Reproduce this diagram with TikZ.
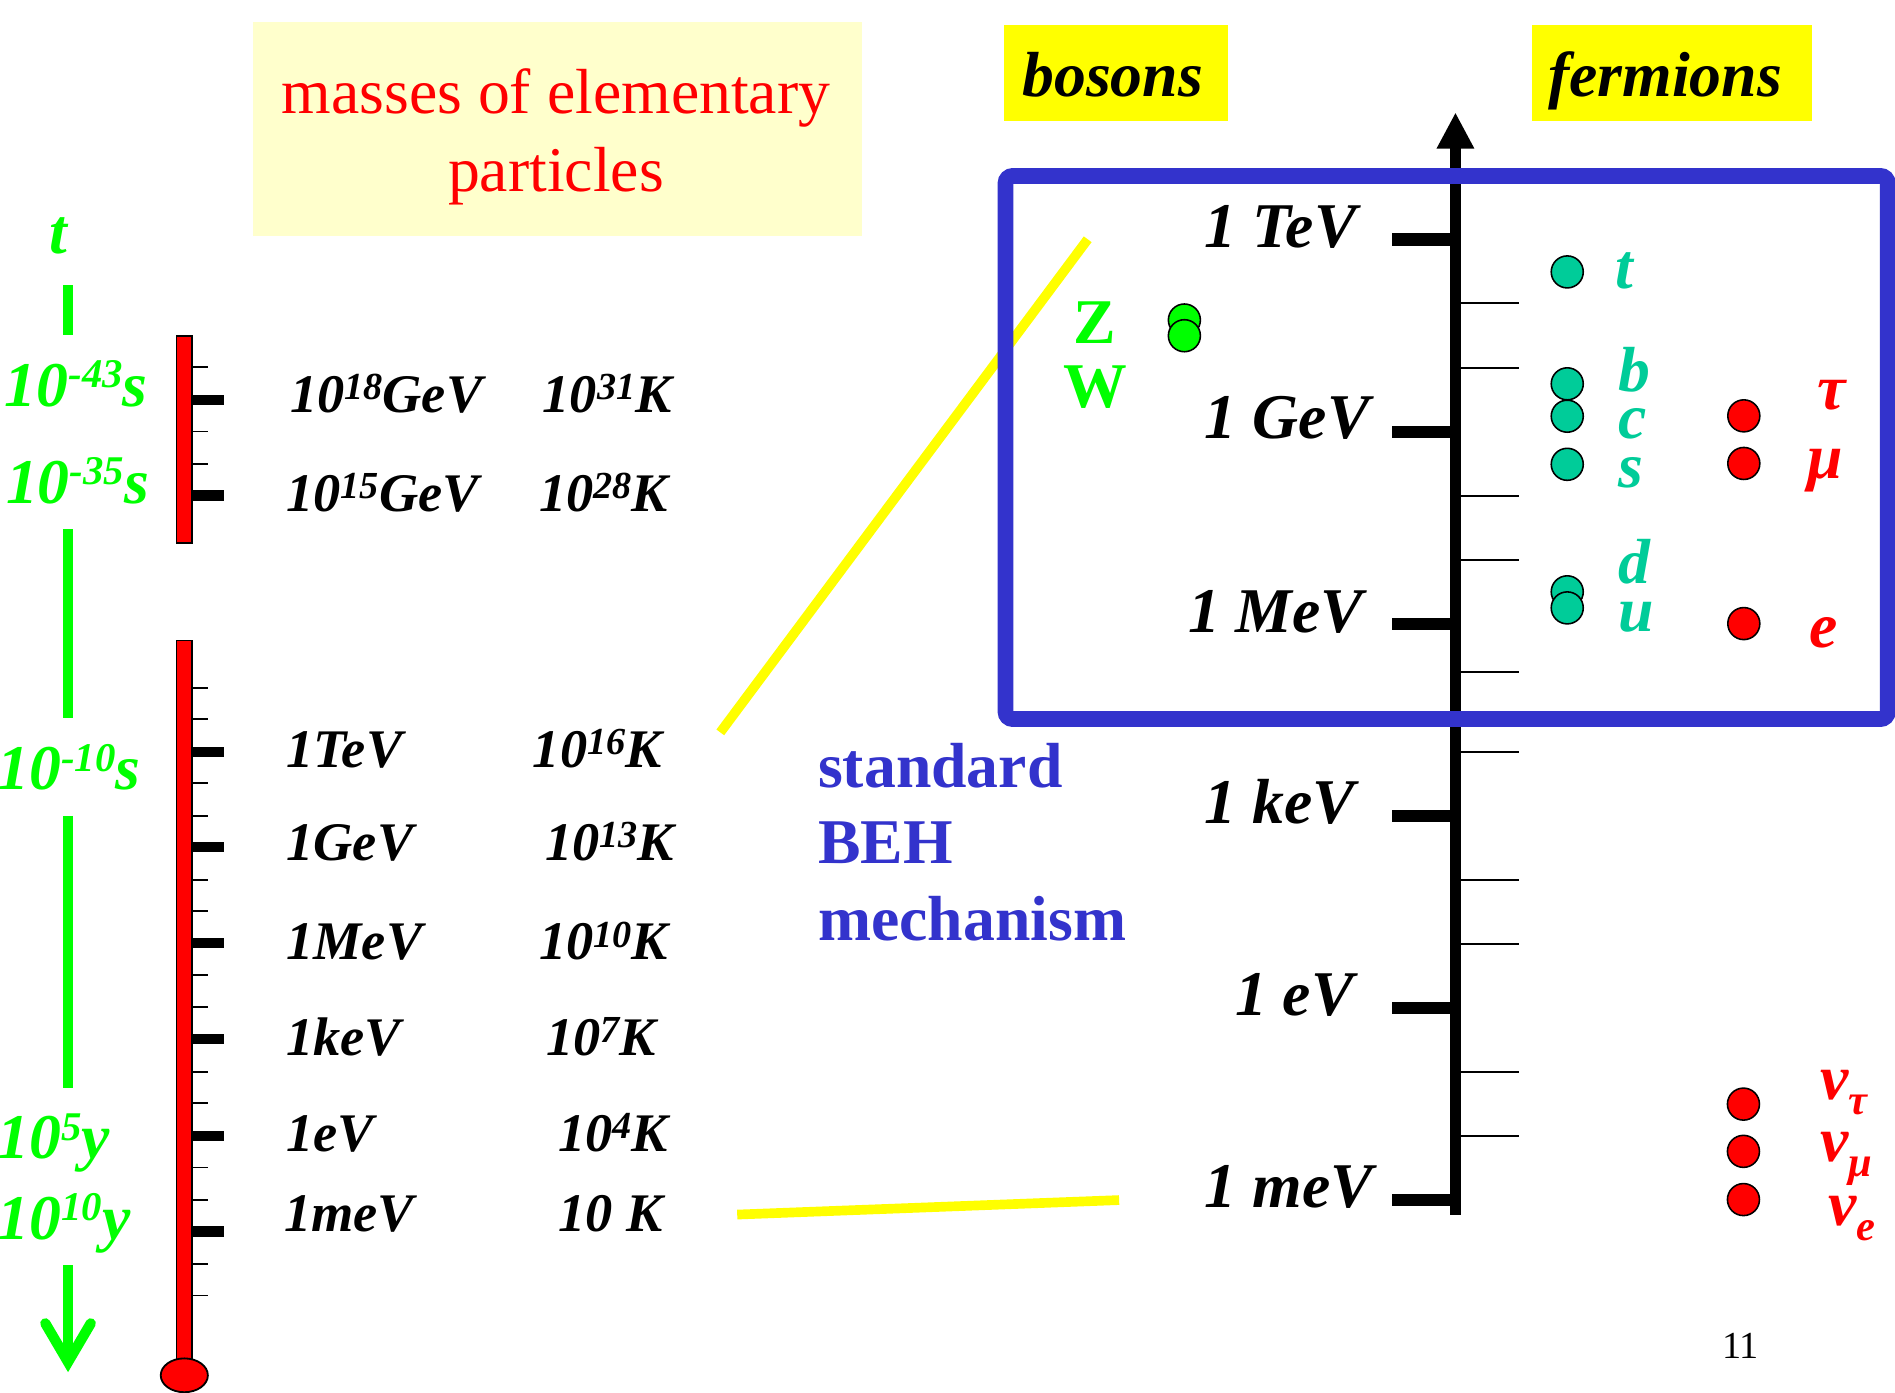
\documentclass[tikz,border=0pt]{standalone}
\usepackage{fontspec}
\setmainfont{Liberation Serif}
\usetikzlibrary{arrows.meta}
\definecolor{grn}{RGB}{0,255,0}
\definecolor{tealc}{RGB}{0,204,153}
\definecolor{bluc}{RGB}{51,51,204}
\definecolor{ltyel}{RGB}{255,255,204}
\definecolor{yelc}{RGB}{255,255,0}
\newcommand{\fsz}[1]{\fontsize{#1}{#1}\selectfont}
\newcommand{\gsup}[1]{\raisebox{4.4pt}{\fsz{9.6}#1}}
\newcommand{\ksup}[1]{\raisebox{3pt}{\fsz{9}#1}}
\newcommand{\nsub}[1]{\raisebox{-3.5pt}{\fsz{10}#1}}
\begin{document}
\begin{tikzpicture}[x=0.1mm,y=-0.1mm,
  txt/.style={inner sep=0pt,outer sep=0pt,anchor=base west},
  bisz/.style={font=\bfseries\itshape\fsz{#1}},
  bsz/.style={font=\bfseries\fsz{#1}},
  therm/.style={fill=red,draw=black,line width=0.15mm},
  tbig/.style={line width=0.85mm},
  tsm/.style={line width=0.15mm},
  gline/.style={draw=grn,line width=0.85mm},
  yline/.style={draw=yelc,line width=0.8mm},
  pdot/.style={circle,draw=black,line width=0.13mm,minimum size=2.65mm,inner sep=0pt,fill=#1},
  axlab/.style={txt,bisz=15},
  elab/.style={txt,bisz=12.8},
  glab/.style={txt,bisz=15,text=grn},
  qlab/.style={txt,bisz=15,text=tealc},
  rlab/.style={txt,bisz=15,text=red},
]
\fill[white] (0,0) rectangle (1568,1152);
\useasboundingbox (0,0) rectangle (1568,1152);

% title
\fill[ltyel] (209,18) rectangle (713,195);
\node[inner sep=0pt,anchor=base,text=red,font=\fsz{15}] (title1) at (460,93.8) {masses of elementary};
\node[inner sep=0pt,anchor=base,text=red,font=\fsz{15}] (title2) at (460,158.6) {particles};

% bosons / fermions
\fill[yelc] (831,20.7) rectangle (1016,99.9);
\fill[yelc] (1267.6,20.7) rectangle (1499,99.9);
\node[axlab] (bos) at (846,80) {bosons};
\node[axlab] (fer) at (1281,80) {fermions};

% green time axis
\node[glab] (tlab) at (41,210) {t};
\draw[gline] (56.3,236) -- (56.3,277);
\draw[gline] (56.3,438) -- (56.3,594);
\draw[gline] (56.3,675) -- (56.3,900);
\draw[gline] (56.3,1047) -- (56.3,1125);
\draw[gline,line join=miter,line cap=round] (37.5,1095) -- (56.3,1127) -- (75.1,1095);
\node[glab] (g43) at (4,336.5) {10\gsup{-43}s};
\node[glab] (g35) at (5,416.3) {10\gsup{-35}s};
\node[glab] (g10) at (-2,653.6) {10\gsup{-10}s};
\node[glab] (g5y) at (-2,959) {10\gsup{5}y};
\node[glab] (g10y) at (-2,1025.4) {10\gsup{10}y};

% thermometer top
\draw[therm] (146,278) rectangle (159,449);
\foreach \yy in {331,410} \draw[tbig] (159,\yy) -- (185.5,\yy);
\foreach \yy in {304,357,384} \draw[tsm] (159,\yy) -- (172,\yy);
% thermometer bottom
\draw[therm] (146,530) rectangle (159,1132);
\draw[therm] (152.5,1138) ellipse [x radius=19.5, y radius=14];
\foreach \yy in {622,701,780,860,940,1019} \draw[tbig] (159,\yy) -- (185.5,\yy);
\foreach \yy in {569,595,648,675,728,754,807,833,887,913,966,993,1046,1072} \draw[tsm] (159,\yy) -- (172,\yy);

% energy / temperature labels
\node[elab] (e18) at (240,341.4) {10\ksup{18}GeV};
\node[elab] (k31) at (449,341.4) {10\ksup{31}K};
\node[elab] (e15) at (237,423.3) {10\ksup{15}GeV};
\node[elab] (k28) at (446,423.3) {10\ksup{28}K};
\node[elab] (eT) at (237,635) {1TeV};
\node[elab] (k16) at (441,635) {10\ksup{16}K};
\node[elab] (eG) at (237,712) {1GeV};
\node[elab] (k13) at (451,712) {10\ksup{13}K};
\node[elab] (eM) at (237,794.3) {1MeV};
\node[elab] (k10) at (446,794.3) {10\ksup{10}K};
\node[elab] (ek) at (237,873) {1keV};
\node[elab] (k7) at (452,873) {10\ksup{7}K};
\node[elab] (ee) at (237,953) {1eV};
\node[elab] (k4) at (462,953) {10\ksup{4}K};
\node[elab] (em) at (235,1019) {1meV};
\node[elab] (k1) at (462,1019) {10 K};

% yellow connectors
\coordinate (ya1) at (596,606);
\coordinate (yb1) at (900,198);
\coordinate (ya2) at (610,1005);
\coordinate (yb2) at (926,993);
\draw[yline] (ya1) -- (yb1);
\draw[yline] (ya2) -- (yb2);

% BEH text
\node[txt,bsz=15,text=bluc] (beh1) at (677,651.4) {standard};
\node[txt,bsz=15,text=bluc] (beh2) at (677,714.3) {BEH};
\node[txt,bsz=15,text=bluc] (beh3) at (677,778.3) {mechanism};

% energy axis
\coordinate (axb) at (1204.3,1005);
\coordinate (axt) at (1204.3,93);
\draw[line width=0.95mm,-{Triangle[length=3mm,width=2.9mm]}] (axb) -- (axt);
\foreach \yy in {198.2,357.3,516.5,675.2,834,993} \draw[line width=1mm] (1151.8,\yy) -- (1204.3,\yy);
\foreach \yy in {251,304.4,410.3,463.2,556,622,728,780.8,886.9,939.7} \draw[tsm] (1204.3,\yy) -- (1257,\yy);
\node[axlab] (aT) at (997,205) {1 TeV};
\node[axlab] (aG) at (997,363) {1 GeV};
\node[axlab] (aM) at (983,523) {1 MeV};
\node[axlab] (ak) at (997,681) {1 keV};
\node[axlab] (ae) at (1022,840) {1 eV};
\node[axlab] (am) at (997,999) {1 meV};

% blue box
\node[draw=bluc,line width=1.3mm,rounded corners=0.6mm,minimum width=73mm,minimum height=44.94mm,inner sep=0pt] (smbox) at (1197,370.3) {};

% bosons Z W
\node[pdot=grn] (zdot) at (980,264.8) {};
\node[pdot=grn] (wdot) at (980,277.8) {};
\node[txt,bsz=15,text=grn] (zlab) at (888.6,284) {Z};
\node[txt,bsz=15,text=grn] (wlab) at (880,337.4) {W};

% quarks
\node[pdot=tealc] (qt) at (1296.8,225) {};
\node[pdot=tealc] (qb) at (1296.8,317.6) {};
\node[pdot=tealc] (qc) at (1296.8,344.4) {};
\node[pdot=tealc] (qs) at (1296.8,384.2) {};
\node[pdot=tealc] (qd) at (1296.8,489.7) {};
\node[pdot=tealc] (qu) at (1296.8,503) {};
\node[qlab] (lt) at (1337,239) {t};
\node[qlab] (lb) at (1339,323.6) {b};
\node[qlab] (lc) at (1339,363) {c};
\node[qlab] (ls) at (1339,403) {s};
\node[qlab] (ld) at (1339,483) {d};
\node[qlab] (lu) at (1339,522.6) {u};

% leptons
\node[pdot=red] (ltau) at (1442.9,344.1) {};
\node[pdot=red] (lmu) at (1442.9,383.5) {};
\node[pdot=red] (lel) at (1442.9,516) {};
\node[rlab] (ttau) at (1504,339) {τ};
\node[rlab] (tmu) at (1496,396) {μ};
\node[rlab] (tel) at (1497,536) {e};
\node[pdot=red] (ntau) at (1442.6,913.6) {};
\node[pdot=red] (nmu) at (1442.6,952.7) {};
\node[pdot=red] (nel) at (1442.6,992.6) {};
\node[rlab] (tntau) at (1506,909.6) {ν\nsub{τ}};
\node[rlab] (tnmu) at (1506,961) {ν\nsub{μ}};
\node[rlab] (tnel) at (1513,1014) {ν\nsub{e}};

% page number
\node[txt,font=\fsz{9}] (pnum) at (1425,1124) {11};
\end{tikzpicture}
\end{document}
